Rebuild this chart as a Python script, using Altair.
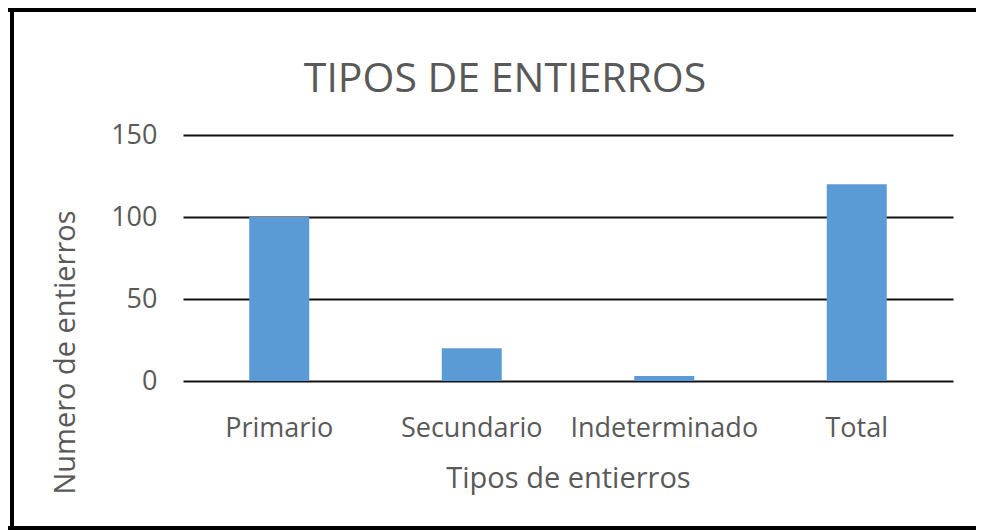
import altair as alt
import pandas as pd

categories = ["Primario", "Secundario", "Indeterminado", "Total"]
values = [100, 20, 3, 120]
y_ticks = [0, 50, 100, 150]
chart_title = "TIPOS DE ENTIERROS"

df = pd.DataFrame({"tipo": categories, "n": values})

FONT = "Open Sans"
GRAY = "#595959"
BLUE = "#5B9BD5"

bars = alt.Chart(df).mark_bar(size=60, color=BLUE).encode(
    x=alt.X(
        "tipo:N",
        sort=categories,
        title="Tipos de entierros",
        axis=alt.Axis(
            labelAngle=0, labelFont=FONT, labelFontSize=27, labelColor=GRAY, labelLimit=0,
            labelPadding=55, labelBaseline="alphabetic", ticks=False, domain=False,
            titleFont=FONT, titleFontSize=29, titleColor=GRAY, titleFontWeight="normal",
            titleX=385, titleY=106, titleBaseline="alphabetic",
        ),
    ),
    y=alt.Y(
        "n:Q",
        scale=alt.Scale(domain=[0, 150], nice=False),
        title="Numero de entierros",
        axis=alt.Axis(
            values=y_ticks, grid=True, gridColor="#111111", gridWidth=2,
            ticks=False, domain=False,
            labelFont=FONT, labelFontSize=27, labelColor=GRAY, labelPadding=26,
            titleFont=FONT, titleFontSize=29, titleColor=GRAY, titleFontWeight="normal",
            titleX=-118, titleY=217, titleAngle=270, titleBaseline="middle", titleAlign="center",
        ),
    ),
)

one = pd.DataFrame({"a": [0]})
two = pd.DataFrame({"b": [1]})

title_text = alt.Chart(one).mark_text(
    text=chart_title, font=FONT, fontSize=41, color=GRAY, baseline="alphabetic", align="center"
).encode(x=alt.value(322), y=alt.value(-43))

left_edge = alt.Chart(two).mark_rule(color="#000000", strokeWidth=4, clip=False).encode(
    x=alt.value(-171), x2=alt.value(-171), y=alt.value(-127), y2=alt.value(395)
)
top_edge = alt.Chart(one).mark_rule(color="#000000", strokeWidth=4, clip=False).encode(
    x=alt.value(-175), x2=alt.value(793), y=alt.value(-125)
)
bottom_edge = alt.Chart(one).mark_rule(color="#000000", strokeWidth=4, clip=False).encode(
    x=alt.value(-175), x2=alt.value(793), y=alt.value(393)
)

chart = alt.layer(bars, title_text, top_edge, bottom_edge, left_edge).properties(
    width=770,
    height=246,
    padding={"left": 175, "top": 127, "right": 23, "bottom": 149},
    autosize=alt.AutoSizeParams(type="none"),
    background="white",
).configure_view(stroke=None)

chart.save("out.html", embed_options={"renderer": "svg", "actions": False})
